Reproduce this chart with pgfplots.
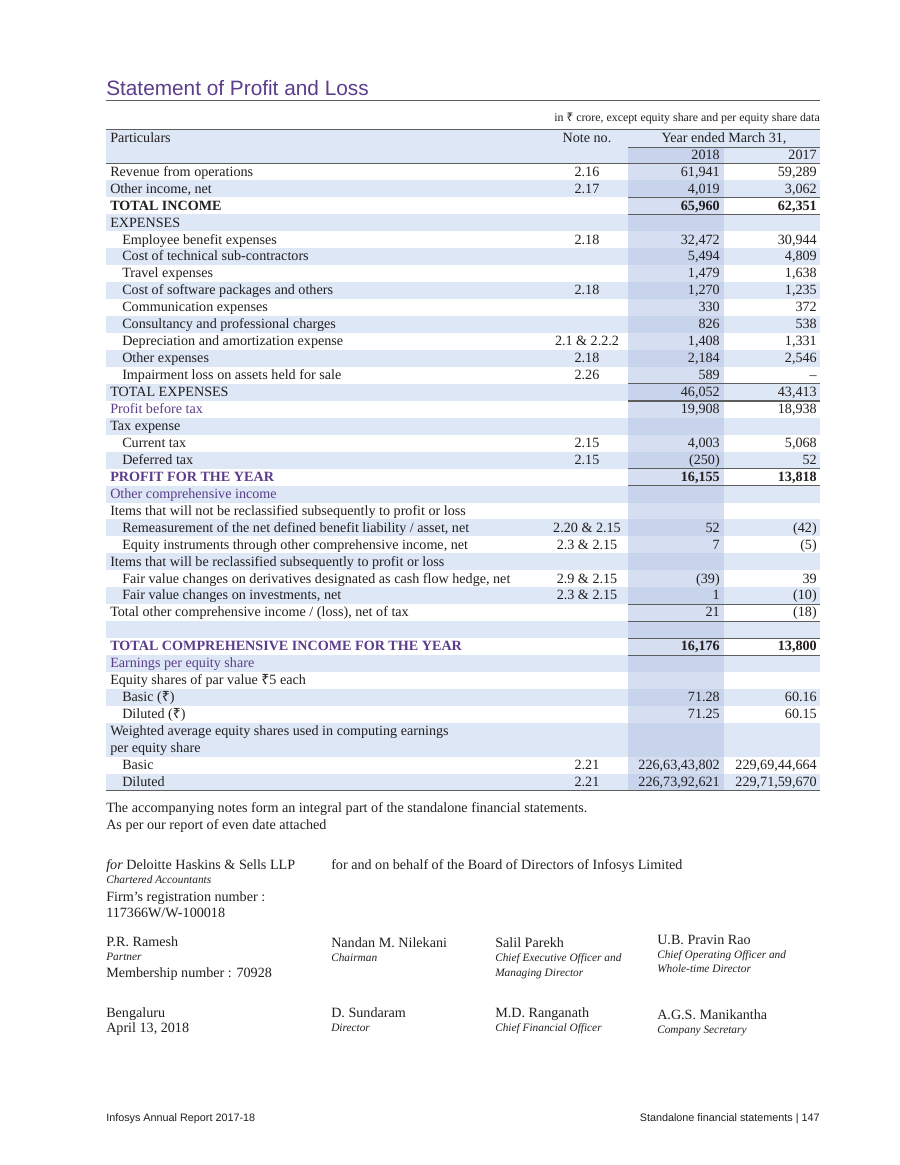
\documentclass[border=0pt]{standalone}
\usepackage{fontspec}
\setmainfont{Liberation Serif}
\setsansfont{Liberation Sans}
\newfontfamily\rupeefont{Noto Sans}
\usepackage{pgfplots}
\usepackage{pgfplotstable}
\pgfplotsset{compat=1.18}

\definecolor{rowblue}{HTML}{DDE7F5}
\definecolor{colpale}{HTML}{D5DFF1}
\definecolor{coldark}{HTML}{C8D4EB}
\definecolor{infpurple}{HTML}{5C3D8C}
\definecolor{rulegray}{HTML}{5E5E5E}
\definecolor{ink}{HTML}{231F20}

\newcommand\rs{{\rupeefont ₹}}
\newcommand\tb{\fontsize{10.6}{12}\selectfont}
\newcommand\sm{\fontsize{8.9}{10}\selectfont}
\newcommand\smit{\itshape\fontsize{8.5}{10}\selectfont}
% row geometry in page pixels (y grows downwards)
\newcommand\rowb[1]{172+16.95*#1+4.2}
\newcommand\rowt[1]{163.5+16.95*#1}

% amounts, in crore, by table row
\pgfplotstableread{
row a b
0 61,941 59,289
1 4,019 3,062
4 32,472 30,944
5 5,494 4,809
6 1,479 1,638
7 1,270 1,235
8 330 372
9 826 538
10 1,408 1,331
11 2,184 2,546
12 589 –
13 46,052 43,413
14 19,908 18,938
16 4,003 5,068
17 (250) 52
21 52 (42)
22 7 (5)
24 (39) 39
25 1 (10)
26 21 (18)
31 71.28 60.16
32 71.25 60.15
35 226,63,43,802 229,69,44,664
36 226,73,92,621 229,71,59,670
}\valtab

% totals set in bold
\pgfplotstableread{
row a b
2 65,960 62,351
18 16,155 13,818
28 16,176 13,800
}\boldtab

\begin{document}
\begin{tikzpicture}[
  lbl/.style={anchor=base west, inner sep=0pt, text=ink, font=\tb},
  ctr/.style={anchor=base, inner sep=0pt, text=ink, font=\tb},
  rgt/.style={anchor=base east, inner sep=0pt, text=ink, font=\tb},
  pur/.style={lbl, text=infpurple},
  rule/.style={rulegray, line width=0.8pt},
]
\begin{axis}[
  width=675pt, height=873.75pt, scale only axis,
  xmin=0, xmax=900, ymin=0, ymax=1165, y dir=reverse,
  hide axis, clip=false,
]
\fill[white] (axis cs:0,0) rectangle (axis cs:900,1165);

% title
\node[anchor=base west, inner sep=0pt, text=infpurple, font=\sffamily\fontsize{15.6}{18}\selectfont]
  at (axis cs:106,95) {Statement of Profit and Loss};
\draw[rulegray, line width=0.6pt] (axis cs:106,100) -- (axis cs:820,100);
\node[rgt, font=\sm] at (axis cs:820,121) {in \rs{} crore, except equity share and per equity share data};

% shading
\fill[rowblue] (axis cs:106,129.5) rectangle (axis cs:820,163.5);
\fill[colpale] (axis cs:628,147.5) rectangle (axis cs:724,790.6);
\fill[coldark] (axis cs:628,147.5) rectangle (axis cs:724,163.5);
\pgfplotsinvokeforeach{1,3,...,31,33,34,36}{
  \fill[rowblue] (axis cs:106,{\rowt{#1}}) rectangle (axis cs:628,{\rowt{#1}+16.95});
  \fill[rowblue] (axis cs:724,{\rowt{#1}}) rectangle (axis cs:820,{\rowt{#1}+16.95});
  \fill[coldark] (axis cs:628,{\rowt{#1}}) rectangle (axis cs:724,{\rowt{#1}+16.95});
}

% rules
\draw[rule] (axis cs:106,129.5) -- (axis cs:820,129.5);
\draw[rulegray, line width=0.5pt] (axis cs:628,147.5) -- (axis cs:820,147.5);
\draw[rule] (axis cs:106,163.5) -- (axis cs:820,163.5);
\pgfplotsinvokeforeach{2,3,13,18,19,26,27,28,29}{
  \draw[rule] (axis cs:628,{\rowt{#1}}) -- (axis cs:820,{\rowt{#1}});
}
\draw[rulegray, line width=1.3pt] (axis cs:628,{\rowt{14}}) -- (axis cs:820,{\rowt{14}});
\draw[rulegray, line width=1.3pt] (axis cs:106,790.6) -- (axis cs:820,790.6);

% header
\node[lbl] at (axis cs:110,142) {Particulars};
\node[ctr] at (axis cs:587,142) {Note no.};
\node[ctr] at (axis cs:724,142) {Year ended March 31,};
\node[rgt] at (axis cs:720,159) {2018};
\node[rgt] at (axis cs:817,159) {2017};

% line items
\node[lbl] at (axis cs:110,{\rowb{0}}) {Revenue from operations};
\node[lbl] at (axis cs:110,{\rowb{1}}) {Other income, net};
\node[lbl, font=\tb\bfseries] at (axis cs:110,{\rowb{2}}) {TOTAL INCOME};
\node[lbl] at (axis cs:110,{\rowb{3}}) {EXPENSES};
\node[lbl] at (axis cs:122,{\rowb{4}}) {Employee benefit expenses};
\node[lbl] at (axis cs:122,{\rowb{5}}) {Cost of technical sub-contractors};
\node[lbl] at (axis cs:122,{\rowb{6}}) {Travel expenses};
\node[lbl] at (axis cs:122,{\rowb{7}}) {Cost of software packages and others};
\node[lbl] at (axis cs:122,{\rowb{8}}) {Communication expenses};
\node[lbl] at (axis cs:122,{\rowb{9}}) {Consultancy and professional charges};
\node[lbl] at (axis cs:122,{\rowb{10}}) {Depreciation and amortization expense};
\node[lbl] at (axis cs:122,{\rowb{11}}) {Other expenses};
\node[lbl] at (axis cs:122,{\rowb{12}}) {Impairment loss on assets held for sale};
\node[lbl] at (axis cs:110,{\rowb{13}}) {TOTAL EXPENSES};
\node[pur] at (axis cs:110,{\rowb{14}}) {Profit before tax};
\node[lbl] at (axis cs:110,{\rowb{15}}) {Tax expense};
\node[lbl] at (axis cs:122,{\rowb{16}}) {Current tax};
\node[lbl] at (axis cs:122,{\rowb{17}}) {Deferred tax};
\node[pur, font=\tb\bfseries] at (axis cs:110,{\rowb{18}}) {PROFIT FOR THE YEAR};
\node[pur] at (axis cs:110,{\rowb{19}}) {Other comprehensive income};
\node[lbl] at (axis cs:110,{\rowb{20}}) {Items that will not be reclassified subsequently to profit or loss};
\node[lbl] at (axis cs:122,{\rowb{21}}) {Remeasurement of the net defined benefit liability / asset, net};
\node[lbl] at (axis cs:122,{\rowb{22}}) {Equity instruments through other comprehensive income, net};
\node[lbl] at (axis cs:110,{\rowb{23}}) {Items that will be reclassified subsequently to profit or loss};
\node[lbl] at (axis cs:122,{\rowb{24}}) {Fair value changes on derivatives designated as cash flow hedge, net};
\node[lbl] at (axis cs:122,{\rowb{25}}) {Fair value changes on investments, net};
\node[lbl] at (axis cs:110,{\rowb{26}}) {Total other comprehensive income / (loss), net of tax};
\node[pur, font=\tb\bfseries] at (axis cs:110,{\rowb{28}}) {TOTAL COMPREHENSIVE INCOME FOR THE YEAR};
\node[pur] at (axis cs:110,{\rowb{29}}) {Earnings per equity share};
\node[lbl] at (axis cs:110,{\rowb{30}}) {Equity shares of par value \rs5 each};
\node[lbl] at (axis cs:122,{\rowb{31}}) {Basic (\rs)};
\node[lbl] at (axis cs:122,{\rowb{32}}) {Diluted (\rs)};
\node[lbl] at (axis cs:110,{\rowb{33}}) {Weighted average equity shares used in computing earnings};
\node[lbl] at (axis cs:110,{\rowb{34}}) {per equity share};
\node[lbl] at (axis cs:122,{\rowb{35}}) {Basic};
\node[lbl] at (axis cs:122,{\rowb{36}}) {Diluted};

% note numbers
\node[ctr] at (axis cs:587,{\rowb{0}}) {2.16};
\node[ctr] at (axis cs:587,{\rowb{1}}) {2.17};
\node[ctr] at (axis cs:587,{\rowb{4}}) {2.18};
\node[ctr] at (axis cs:587,{\rowb{7}}) {2.18};
\node[ctr] at (axis cs:587,{\rowb{10}}) {2.1 \& 2.2.2};
\node[ctr] at (axis cs:587,{\rowb{11}}) {2.18};
\node[ctr] at (axis cs:587,{\rowb{12}}) {2.26};
\node[ctr] at (axis cs:587,{\rowb{16}}) {2.15};
\node[ctr] at (axis cs:587,{\rowb{17}}) {2.15};
\node[ctr] at (axis cs:587,{\rowb{21}}) {2.20 \& 2.15};
\node[ctr] at (axis cs:587,{\rowb{22}}) {2.3 \& 2.15};
\node[ctr] at (axis cs:587,{\rowb{24}}) {2.9 \& 2.15};
\node[ctr] at (axis cs:587,{\rowb{25}}) {2.3 \& 2.15};
\node[ctr] at (axis cs:587,{\rowb{35}}) {2.21};
\node[ctr] at (axis cs:587,{\rowb{36}}) {2.21};

% amounts
\addplot[draw=none, nodes near coords, point meta=explicit symbolic,
  every node near coord/.append style={anchor=base east, inner sep=0pt, font=\tb, text=ink}]
  table[x expr=720, y expr={\rowb{\thisrow{row}}}, meta=a] {\valtab};
\addplot[draw=none, nodes near coords, point meta=explicit symbolic,
  every node near coord/.append style={anchor=base east, inner sep=0pt, font=\tb, text=ink}]
  table[x expr=817, y expr={\rowb{\thisrow{row}}}, meta=b] {\valtab};
\addplot[draw=none, nodes near coords, point meta=explicit symbolic,
  every node near coord/.append style={anchor=base east, inner sep=0pt, font=\tb\bfseries, text=ink}]
  table[x expr=720, y expr={\rowb{\thisrow{row}}}, meta=a] {\boldtab};
\addplot[draw=none, nodes near coords, point meta=explicit symbolic,
  every node near coord/.append style={anchor=base east, inner sep=0pt, font=\tb\bfseries, text=ink}]
  table[x expr=817, y expr={\rowb{\thisrow{row}}}, meta=b] {\boldtab};

% notes below the table
\node[lbl] at (axis cs:106,812) {The accompanying notes form an integral part of the standalone financial statements.};
\node[lbl] at (axis cs:106,829) {As per our report of even date attached};

% signatures
\node[lbl] at (axis cs:106,869) {\textit{for} Deloitte Haskins \& Sells LLP};
\node[lbl, font=\smit] at (axis cs:106,883) {Chartered Accountants};
\node[lbl] at (axis cs:106,901) {Firm’s registration number :};
\node[lbl] at (axis cs:106,917) {117366W/W-100018};
\node[lbl] at (axis cs:331,869) {for and on behalf of the Board of Directors of Infosys Limited};

\node[lbl] at (axis cs:106,946) {P.R. Ramesh};
\node[lbl, font=\smit] at (axis cs:106,960) {Partner};
\node[lbl] at (axis cs:106,977) {Membership number : 70928};
\node[lbl] at (axis cs:331,947) {Nandan M. Nilekani};
\node[lbl, font=\smit] at (axis cs:331,961) {Chairman};
\node[lbl] at (axis cs:495,947) {Salil Parekh};
\node[lbl, font=\smit] at (axis cs:495,961) {Chief Executive Officer and};
\node[lbl, font=\smit] at (axis cs:495,976) {Managing Director};
\node[lbl] at (axis cs:657,944) {U.B. Pravin Rao};
\node[lbl, font=\smit] at (axis cs:657,958) {Chief Operating Officer and};
\node[lbl, font=\smit] at (axis cs:657,972) {Whole-time Director};

\node[lbl] at (axis cs:106,1017) {Bengaluru};
\node[lbl] at (axis cs:106,1032) {April 13, 2018};
\node[lbl] at (axis cs:331,1017) {D. Sundaram};
\node[lbl, font=\smit] at (axis cs:331,1031) {Director};
\node[lbl] at (axis cs:495,1017) {M.D. Ranganath};
\node[lbl, font=\smit] at (axis cs:495,1031) {Chief Financial Officer};
\node[lbl] at (axis cs:657,1019) {A.G.S. Manikantha};
\node[lbl, font=\smit] at (axis cs:657,1033) {Company Secretary};

% page footer
\node[anchor=base west, inner sep=0pt, text=ink, font=\sffamily\fontsize{8.1}{10}\selectfont]
  at (axis cs:106,1121) {Infosys Annual Report 2017-18};
\node[anchor=base east, inner sep=0pt, text=ink, font=\sffamily\fontsize{8.1}{10}\selectfont]
  at (axis cs:820,1121) {Standalone financial statements | 147};
\end{axis}
\end{tikzpicture}
\end{document}
